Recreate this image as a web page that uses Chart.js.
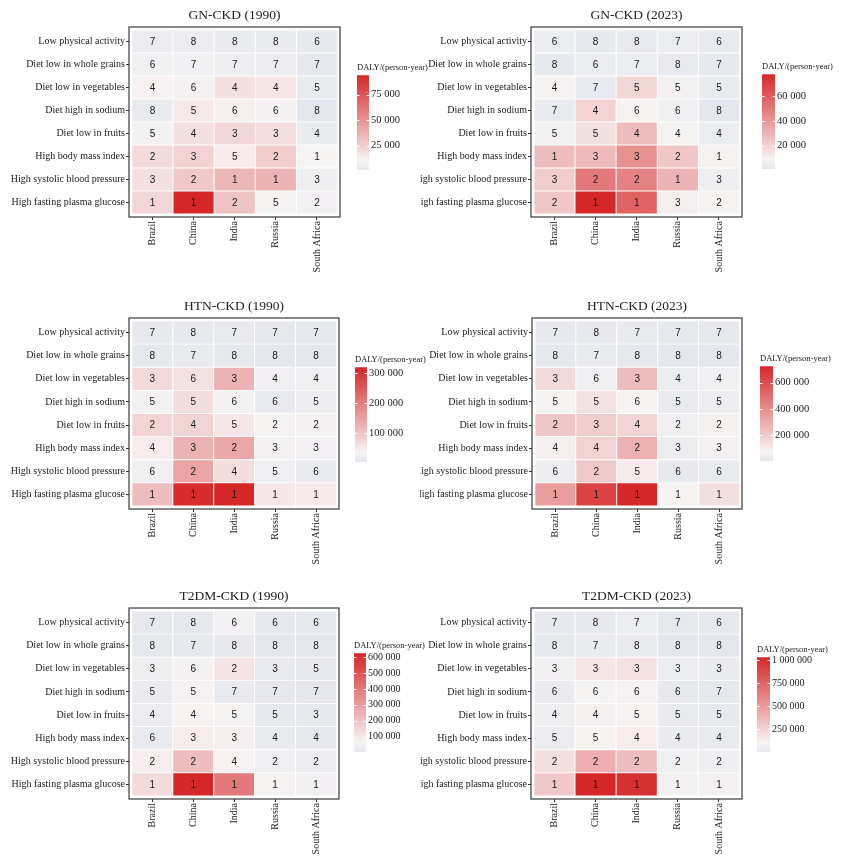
<!DOCTYPE html>
<html>
<head>
<meta charset="utf-8">
<script src="https://cdn.jsdelivr.net/npm/chart.js@4.4.1/dist/chart.umd.min.js"></script>
<style>
html,body{margin:0;padding:0;background:#fff;}
#wrap{position:relative;width:841px;height:863px;overflow:hidden;background:#fff;}
#wrap canvas{position:absolute;}
</style>
</head>
<body>
<div id="wrap"></div>
<script>
// ---------------- DATA ----------------
const countries = ['Brazil', 'China', 'India', 'Russia', 'South Africa'];
const riskFactors = [
  'Low physical activity',
  'Diet low in whole grains',
  'Diet low in vegetables',
  'Diet high in sodium',
  'Diet low in fruits',
  'High body mass index',
  'High systolic blood pressure',
  'High fasting plasma glucose'
];
const panelTitles = ['GN-CKD (1990)', 'GN-CKD (2023)', 'HTN-CKD (1990)', 'HTN-CKD (2023)', 'T2DM-CKD (1990)', 'T2DM-CKD (2023)'];
const legendTitle = 'DALY/(person-year)';

// DALY values (estimated from colours); rows = risk factors, cols = countries
const gn1990Daly = [
  [5000, 5000, 4000, 4000, 2500],
  [7000, 7000, 6000, 5000, 2000],
  [11000, 9000, 18000, 16000, 3000],
  [3000, 15000, 12000, 9000, 1000],
  [9000, 18000, 22000, 19000, 4000],
  [20000, 24000, 14000, 26000, 10000],
  [18000, 28000, 35000, 36000, 6000],
  [22000, 94000, 30000, 10000, 8000]
];
const gn1990Rank = [
  [7, 8, 8, 8, 6],
  [6, 7, 7, 7, 7],
  [4, 6, 4, 4, 5],
  [8, 5, 6, 6, 8],
  [5, 4, 3, 3, 4],
  [2, 3, 5, 2, 1],
  [3, 2, 1, 1, 3],
  [1, 1, 2, 5, 2]
];
const gn2023Daly = [
  [4000, 2000, 3000, 4000, 3000],
  [2000, 4000, 4000, 3000, 2000],
  [8000, 3000, 19000, 7000, 3500],
  [3000, 20000, 9000, 6000, 1000],
  [7000, 15000, 27000, 8000, 4000],
  [27000, 28000, 42000, 24000, 9000],
  [22000, 50000, 47000, 30000, 5000],
  [24000, 78000, 58000, 10000, 8000]
];
const gn2023Rank = [
  [6, 8, 8, 7, 6],
  [8, 6, 7, 8, 7],
  [4, 7, 5, 5, 5],
  [7, 4, 6, 6, 8],
  [5, 5, 4, 4, 4],
  [1, 3, 3, 2, 1],
  [3, 2, 2, 1, 3],
  [2, 1, 1, 3, 2]
];
const htn1990Daly = [
  [8000, 8000, 10000, 6000, 5000],
  [5000, 10000, 6000, 3000, 3000],
  [70000, 58000, 125000, 25000, 22000],
  [30000, 65000, 30000, 12000, 18000],
  [78000, 80000, 52000, 32000, 30000],
  [45000, 125000, 140000, 28000, 27000],
  [25000, 145000, 65000, 22000, 12000],
  [110000, 315000, 320000, 52000, 48000]
];
const htn1990Rank = [
  [7, 8, 7, 7, 7],
  [8, 7, 8, 8, 8],
  [3, 6, 3, 4, 4],
  [5, 5, 6, 6, 5],
  [2, 4, 5, 2, 2],
  [4, 3, 2, 3, 3],
  [6, 2, 4, 5, 6],
  [1, 1, 1, 1, 1]
];
const htn2023Daly = [
  [15000, 15000, 20000, 8000, 10000],
  [8000, 20000, 12000, 4000, 5000],
  [160000, 45000, 250000, 32000, 50000],
  [70000, 130000, 75000, 22000, 40000],
  [215000, 200000, 175000, 45000, 90000],
  [90000, 180000, 290000, 38000, 60000],
  [40000, 205000, 100000, 18000, 20000],
  [350000, 640000, 725000, 70000, 140000]
];
const htn2023Rank = [
  [7, 8, 7, 7, 7],
  [8, 7, 8, 8, 8],
  [3, 6, 3, 4, 4],
  [5, 5, 6, 5, 5],
  [2, 3, 4, 2, 2],
  [4, 4, 2, 3, 3],
  [6, 2, 5, 6, 6],
  [1, 1, 1, 1, 1]
];
const t2dm1990Daly = [
  [10000, 10000, 50000, 10000, 7000],
  [6000, 12000, 15000, 4000, 3000],
  [35000, 55000, 105000, 20000, 9000],
  [25000, 62000, 20000, 8000, 5000],
  [30000, 70000, 60000, 14000, 12000],
  [20000, 85000, 80000, 16000, 10000],
  [80000, 210000, 70000, 40000, 30000],
  [130000, 625000, 400000, 60000, 45000]
];
const t2dm1990Rank = [
  [7, 8, 6, 6, 6],
  [8, 7, 8, 8, 8],
  [3, 6, 2, 3, 5],
  [5, 5, 7, 7, 7],
  [4, 4, 5, 5, 3],
  [6, 3, 3, 4, 4],
  [2, 2, 4, 2, 2],
  [1, 1, 1, 1, 1]
];
const t2dm2023Daly = [
  [20000, 25000, 45000, 12000, 15000],
  [10000, 40000, 30000, 6000, 5000],
  [75000, 170000, 185000, 45000, 35000],
  [40000, 95000, 100000, 22000, 12000],
  [60000, 125000, 115000, 30000, 22000],
  [50000, 110000, 140000, 35000, 28000],
  [200000, 420000, 350000, 70000, 60000],
  [300000, 1030000, 990000, 90000, 80000]
];
const t2dm2023Rank = [
  [7, 8, 7, 7, 6],
  [8, 7, 8, 8, 8],
  [3, 3, 3, 3, 3],
  [6, 6, 6, 6, 7],
  [4, 4, 5, 5, 5],
  [5, 5, 4, 4, 4],
  [2, 2, 2, 2, 2],
  [1, 1, 1, 1, 1]
];
const gn1990Ticks = [25000, 50000, 75000];
const gn2023Ticks = [20000, 40000, 60000];
const htn1990Ticks = [100000, 200000, 300000];
const htn2023Ticks = [200000, 400000, 600000];
const t2dm1990Ticks = [100000, 200000, 300000, 400000, 500000, 600000];
const t2dm2023Ticks = [250000, 500000, 750000, 1000000];

// ---------------- LAYOUT / STYLE ----------------
const panels = [
  {title: panelTitles[0], daly: gn1990Daly, rank: gn1990Rank, ticks: gn1990Ticks,
   box: {l: 129, r: 340, t: 27, b: 217}, cLeft: 0, bar: {l: 357, r: 369, t: 75, b: 170}, tickFont: 10.5},
  {title: panelTitles[1], daly: gn2023Daly, rank: gn2023Rank, ticks: gn2023Ticks,
   box: {l: 531, r: 742, t: 27, b: 217}, cLeft: 420, bar: {l: 762, r: 775, t: 74, b: 169}, tickFont: 10.5},
  {title: panelTitles[2], daly: htn1990Daly, rank: htn1990Rank, ticks: htn1990Ticks,
   box: {l: 129, r: 339, t: 318, b: 509}, cLeft: 0, bar: {l: 355, r: 367, t: 367, b: 462}, tickFont: 10.5},
  {title: panelTitles[3], daly: htn2023Daly, rank: htn2023Rank, ticks: htn2023Ticks,
   box: {l: 532, r: 742, t: 318, b: 509}, cLeft: 420, bar: {l: 760, r: 773, t: 366, b: 461}, tickFont: 10.5},
  {title: panelTitles[4], daly: t2dm1990Daly, rank: t2dm1990Rank, ticks: t2dm1990Ticks,
   box: {l: 129, r: 339, t: 608, b: 799}, cLeft: 0, bar: {l: 354, r: 366, t: 653, b: 752}, tickFont: 10},
  {title: panelTitles[5], daly: t2dm2023Daly, rank: t2dm2023Rank, ticks: t2dm2023Ticks,
   box: {l: 531, r: 742, t: 608, b: 799}, cLeft: 420, bar: {l: 757, r: 770, t: 657, b: 752}, tickFont: 10}
];

const SERIF = '"Liberation Serif", "Times New Roman", serif';
const SANS = '"Liberation Sans", Arial, sans-serif';
const LOW = [228, 231, 237], MIDC = [247, 243, 243], HIGH = [214, 39, 40], MID = 0.1;

Chart.defaults.font.family = SERIF;
Chart.defaults.color = '#222';
Chart.defaults.animation = false;

const fmt = v => String(v).replace(/\B(?=(\d{3})+(?!\d))/g, ' ');
function mix(a, b, t) { return a.map((x, i) => Math.round(x + (b[i] - x) * t)); }
function colorAt(t) {
  t = Math.max(0, Math.min(1, t));
  const c = t < MID ? mix(LOW, MIDC, t / MID) : mix(MIDC, HIGH, (t - MID) / (1 - MID));
  return 'rgb(' + c[0] + ',' + c[1] + ',' + c[2] + ')';
}

const wrap = document.getElementById('wrap');
function addCanvas(left, top, w, h, z) {
  const c = document.createElement('canvas');
  c.width = Math.round(w); c.height = Math.round(h);
  c.style.left = left + 'px'; c.style.top = top + 'px'; c.style.zIndex = z;
  wrap.appendChild(c);
  return c;
}

const boxPlugin = {
  id: 'panelBox',
  afterDraw(chart) {
    const a = chart.chartArea, ctx = chart.ctx;
    ctx.save();
    ctx.strokeStyle = '#3a3a3a'; ctx.lineWidth = 1.2;
    ctx.strokeRect(a.left, a.top, a.right - a.left, a.bottom - a.top);
    ctx.restore();
  }
};
const cellTextPlugin = {
  id: 'cellText',
  afterDatasetsDraw(chart) {
    const ctx = chart.ctx, meta = chart.getDatasetMeta(0), ds = chart.data.datasets[0];
    ctx.save();
    ctx.font = '10px ' + SANS; ctx.fillStyle = '#1a1a1a';
    ctx.textAlign = 'center'; ctx.textBaseline = 'middle';
    meta.data.forEach((el, i) => {
      const p = el.getProps(['x', 'y', 'base'], true);
      ctx.fillText(String(ds.data[i].rank), p.x, (p.y + p.base) / 2 + 0.5);
    });
    ctx.restore();
  }
};
const barTicksPlugin = {
  id: 'barTicks',
  afterDatasetsDraw(chart) {
    const ctx = chart.ctx, a = chart.chartArea, y = chart.scales.y;
    ctx.save();
    ctx.strokeStyle = '#ffffff'; ctx.lineWidth = 1;
    y.ticks.forEach(t => {
      const py = Math.round(y.getPixelForValue(t.value)) + 0.5;
      ctx.beginPath();
      ctx.moveTo(a.left, py); ctx.lineTo(a.left + 2.5, py);
      ctx.moveTo(a.right - 2.5, py); ctx.lineTo(a.right, py);
      ctx.stroke();
    });
    ctx.restore();
  }
};

panels.forEach((p, idx) => {
  const all = p.daly.flat();
  const dMin = Math.min(...all), dMax = Math.max(...all);
  const points = [], colors = [];
  p.daly.forEach((row, r) => row.forEach((v, c) => {
    points.push({x: c, y: [r - 0.5, r + 0.5], rank: p.rank[r][c]});
    colors.push(colorAt((v - dMin) / (dMax - dMin)));
  }));

  // ---- heatmap ----
  const top = p.box.t - 30;
  const w = p.box.r + 5 - p.cLeft;
  const h = 30 + (p.box.b - p.box.t) + 68;
  const cv = addCanvas(p.cLeft, top, w, h, p.cLeft === 0 ? 2 : 1);
  const yW = p.box.l - p.cLeft;
  new Chart(cv, {
    type: 'bar',
    data: {datasets: [{
      data: points, backgroundColor: colors, borderColor: '#ffffff', borderWidth: 0.8,
      borderSkipped: false, barPercentage: 1, categoryPercentage: 1
    }]},
    options: {
      responsive: false, animation: false,
      layout: {padding: {top: 6.8, right: 5, left: 0, bottom: 0}},
      plugins: {
        legend: {display: false}, tooltip: {enabled: false},
        title: {display: true, text: p.title, fullSize: false, color: '#222',
                font: {family: SERIF, size: 13.5, weight: 'normal', lineHeight: 1.2},
                padding: {top: 4, bottom: 3}}
      },
      scales: {
        x: {
          type: 'linear', offset: false, min: -0.57, max: 4.56,
          afterBuildTicks: s => { s.ticks = countries.map((_, i) => ({value: i})); },
          afterFit: s => { s.height = 68; },
          ticks: {callback: v => countries[v], minRotation: 90, maxRotation: 90, autoSkip: false,
                  padding: 1, font: {family: SERIF, size: 10}, color: '#222'},
          grid: {display: true, offset: false, drawOnChartArea: false, drawTicks: true, tickLength: 3, color: '#333', lineWidth: 1},
          border: {display: false}
        },
        y: {
          type: 'linear', offset: false, reverse: true, min: -0.63, max: 7.63,
          afterBuildTicks: s => { s.ticks = riskFactors.map((_, i) => ({value: i})); },
          afterFit: s => { s.width = yW; },
          ticks: {callback: v => riskFactors[v], autoSkip: false, padding: 1,
                  font: {family: SERIF, size: 10}, color: '#222'},
          grid: {display: true, offset: false, drawOnChartArea: false, drawTicks: true, tickLength: 3, color: '#333', lineWidth: 1},
          border: {display: false}
        }
      }
    },
    plugins: [cellTextPlugin, boxPlugin]
  });

  // ---- colour bar legend ----
  const barW = p.bar.r - p.bar.l, barH = p.bar.b - p.bar.t;
  const tpTop = 3, tpBot = 2, tSize = 8.5;
  const titleH = tpTop + tSize * 1.2 + tpBot;
  const lTop = p.bar.t - titleH;
  const axisW = 74;
  const lw = 2 + barW + axisW, lh = titleH + barH + 10;
  const lc = addCanvas(p.bar.l - 2, lTop, lw, lh, 3);
  new Chart(lc, {
    type: 'bar',
    data: {labels: ['DALY'], datasets: [{
      data: [[dMin, dMax]], borderWidth: 0, barPercentage: 1, categoryPercentage: 1,
      backgroundColor: (ctx) => {
        const chart = ctx.chart;
        if (!chart.chartArea) return 'rgba(0,0,0,0)';
        const ys = chart.scales.y;
        const g = chart.ctx.createLinearGradient(0, ys.getPixelForValue(dMin), 0, ys.getPixelForValue(dMax));
        g.addColorStop(0, colorAt(0));
        g.addColorStop(MID, colorAt(MID));
        g.addColorStop(0.4, colorAt(0.4));
        g.addColorStop(0.7, colorAt(0.7));
        g.addColorStop(1, colorAt(1));
        return g;
      }
    }]},
    options: {
      responsive: false, animation: false,
      layout: {padding: {top: 0, left: 2, right: 0, bottom: 10}},
      plugins: {
        legend: {display: false}, tooltip: {enabled: false},
        title: {display: true, text: legendTitle, align: 'start', color: '#222',
                font: {family: SERIF, size: tSize, weight: 'normal', lineHeight: 1.2},
                padding: {top: tpTop, bottom: tpBot}}
      },
      scales: {
        x: {type: 'category', display: false},
        y: {
          type: 'linear', position: 'right', min: dMin, max: dMax,
          afterBuildTicks: s => { s.ticks = p.ticks.map(v => ({value: v})); },
          afterFit: s => { s.width = axisW; },
          ticks: {callback: v => fmt(v), padding: 2, autoSkip: false,
                  font: {family: SERIF, size: p.tickFont}, color: '#222'},
          grid: {display: false, drawTicks: false},
          border: {display: false}
        }
      }
    },
    plugins: [barTicksPlugin]
  });
});
</script>
</body>
</html>
